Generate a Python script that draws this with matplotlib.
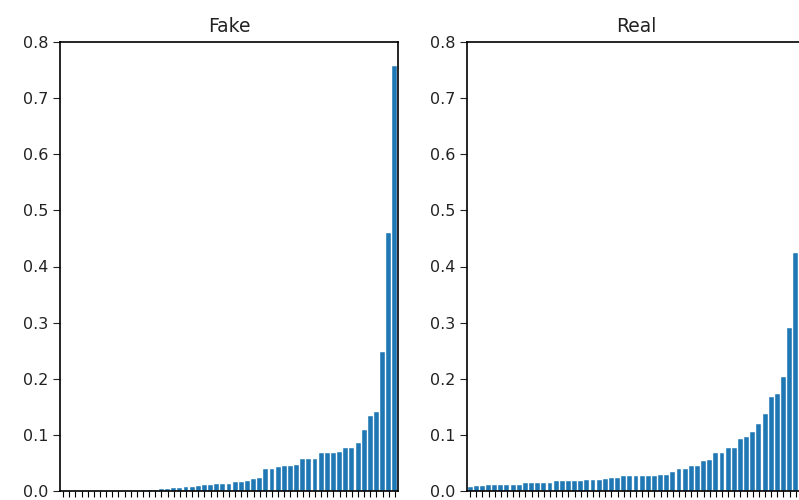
import numpy as np
import matplotlib
matplotlib.use('Agg')
import matplotlib.pyplot as plt

# sorted per-bin values
fake_vals = [
    0, 0, 0, 0, 0, 0, 0, 0, 0, 0, 0, 0, 0,
    0.002, 0.002, 0.002, 0.003, 0.003,
    0.005, 0.005,
    0.008, 0.008,
    0.009, 0.010, 0.010,
    0.012, 0.012, 0.012,
    0.016, 0.016, 0.018,
    0.022, 0.023,
    0.040, 0.040, 0.042, 0.044, 0.044, 0.046,
    0.057, 0.057, 0.057,
    0.068, 0.068, 0.068, 0.070,
    0.077, 0.077,
    0.085, 0.109, 0.134, 0.141, 0.247, 0.460, 0.757,
]

real_vals = [
    0.008, 0.009, 0.009, 0.011, 0.011, 0.011, 0.011, 0.011, 0.011,
    0.014, 0.014, 0.014, 0.015, 0.015,
    0.018, 0.018, 0.018, 0.018, 0.018,
    0.020, 0.020, 0.020, 0.021, 0.023, 0.023,
    0.026, 0.026, 0.026, 0.026, 0.026, 0.026,
    0.028, 0.029, 0.033, 0.039, 0.039, 0.044, 0.044,
    0.053, 0.055, 0.068, 0.068, 0.077, 0.077,
    0.092, 0.096, 0.105, 0.120, 0.138, 0.168, 0.173, 0.204, 0.290, 0.424,
]

titles = ['Fake', 'Real']
y_ticks = [0.0, 0.1, 0.2, 0.3, 0.4, 0.5, 0.6, 0.7, 0.8]
n_bins = 55

W, H = 799, 500
fig = plt.figure(figsize=(W / 100, H / 100), dpi=100)

# axes boxes in pixels (left, bottom-from-top, width, height); right panel runs off the edge
boxes = [(60, 491, 338, 449), (467, 491, 338, 449)]

for vals, title, (x0, yb, w, h) in zip([fake_vals, real_vals], titles, boxes):
    ax = fig.add_axes([x0 / W, (H - yb) / H, w / W, h / H])
    x = np.arange(len(vals))
    ax.bar(x, vals, width=0.8, color='#1f77b4', edgecolor='white', linewidth=0.3)
    ax.set_xlim(-0.5, n_bins - 0.5)
    ax.set_ylim(0, 0.8)
    ax.set_xticks(np.arange(n_bins))
    ax.set_xticklabels([])
    ax.set_yticks(y_ticks)
    ax.set_yticklabels([f'{t:.1f}' for t in y_ticks])
    ax.tick_params(axis='y', labelsize=11.5, length=5, colors='#222222')
    ax.tick_params(axis='x', length=4)
    for s in ax.spines.values():
        s.set_linewidth(1.2)
    ax.set_title(title, fontsize=13.5, pad=7, color='#222222')

fig.savefig('out.png', dpi=100)
